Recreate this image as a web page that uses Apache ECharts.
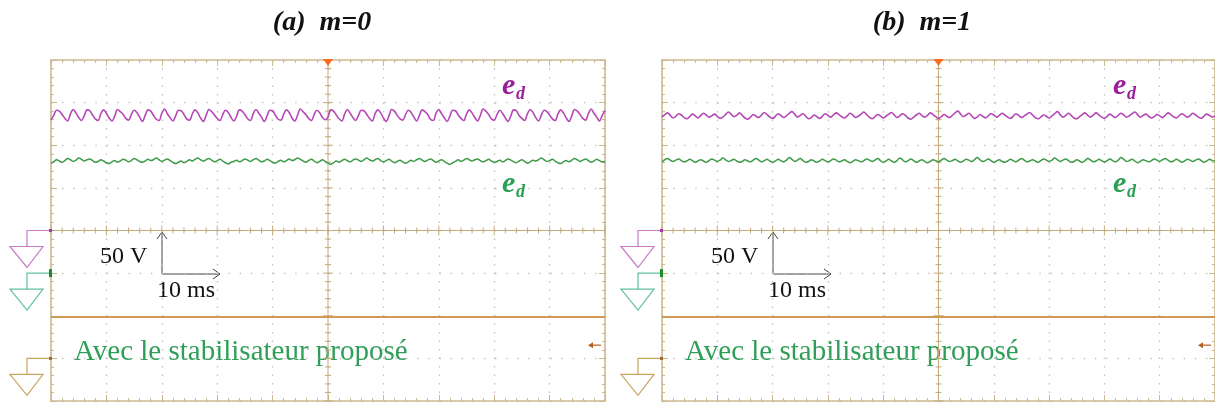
<!DOCTYPE html>
<html><head><meta charset="utf-8">
<script src="https://cdn.jsdelivr.net/npm/echarts@6/dist/echarts.min.js"></script>
<style>html,body{margin:0;padding:0;background:#fff}#c{width:1215px;height:405px}</style>
</head><body><div id="c"></div>
<script>
// ---- data (screen divisions, 50 V/div, 10 ms/div; time axis -50..50 ms) ----
const panelTitles = ['(a)  m=0', '(b)  m=1'];
const noteText = 'Avec le stabilisateur proposé';
const voltScale = '50 V';
const timeScale = '10 ms';
const purpleA = [
2.60,2.70,2.82,2.80,2.72,2.63, 2.57,2.73,2.84,2.76,2.65, 2.58,2.69,2.83,2.81,2.71,2.62, 2.58,2.74,2.83,2.75,2.64,
2.57,2.68,2.84,2.79,2.73,2.63, 2.59,2.72,2.82,2.77,2.66, 2.56,2.70,2.83,2.80,2.70,2.61, 2.58,2.75,2.85,2.74,2.65,
2.57,2.69,2.82,2.81,2.72,2.62, 2.59,2.73,2.83,2.76,2.64, 2.56,2.70,2.84,2.79,2.71,2.63, 2.58,2.72,2.82,2.77,2.65,
2.57,2.68,2.83,2.80,2.72,2.62, 2.58,2.74,2.84,2.75,2.66, 2.56,2.69,2.82,2.81,2.70,2.61, 2.59,2.73,2.83,2.77,2.64,
2.57,2.70,2.85,2.79,2.72,2.63, 2.58,2.72,2.82,2.76,2.65,
2.60,2.66,2.83,2.80,2.71,2.62, 2.57,2.73,2.84,2.75,2.65, 2.58,2.70,2.82,2.81,2.72,2.63, 2.57,2.74,2.83,2.76,2.64,
2.56,2.69,2.84,2.80,2.70,2.62, 2.59,2.72,2.82,2.77,2.66, 2.57,2.70,2.83,2.79,2.72,2.61, 2.58,2.75,2.84,2.74,2.64,
2.56,2.68,2.82,2.81,2.71,2.63, 2.58,2.73,2.83,2.76,2.65, 2.57,2.70,2.85,2.80,2.72,2.62, 2.59,2.72,2.82,2.75,2.64,
2.56,2.69,2.83,2.81,2.70,2.63, 2.58,2.74,2.84,2.77,2.65, 2.57,2.70,2.82,2.79,2.71,2.62, 2.58,2.73,2.83,2.76,2.64,
2.56,2.69,2.84,2.80,2.72,2.63, 2.59,2.74,2.85,2.75,2.66, 2.57,2.70,2.82
];
const greenA = [
1.58,1.61,1.66,1.63,1.60,1.64,1.69,1.66,1.62,1.65,1.70,1.67,1.63,1.66,1.68,1.64,1.60,1.62,1.66,1.63,
1.59,1.57,1.61,1.64,1.60,1.63,1.67,1.65,1.61,1.64,1.69,1.66,1.62,1.60,1.63,1.67,1.64,1.66,1.70,1.66,
1.62,1.65,1.68,1.64,1.60,1.57,1.60,1.63,1.59,1.62,1.66,1.63,1.67,1.70,1.66,1.63,1.66,1.69,1.65,1.61,
1.64,1.67,1.63,1.59,1.56,1.60,1.62,1.65,1.61,1.64,1.68,1.65,1.62,1.66,1.69,1.65,1.61,1.63,1.67,1.64,
1.60,1.58,1.62,1.65,1.61,1.64,1.68,1.64,1.66,1.70,1.67,1.63,1.60,1.64,1.67,1.63,1.59,1.62,1.66,1.62,
1.58,1.55,1.59,1.63,1.60,1.64,1.67,1.64,1.61,1.65,1.68,1.65,1.62,1.66,1.70,1.66,1.63,1.66,1.69,1.64,
1.61,1.64,1.67,1.63,1.59,1.62,1.65,1.61,1.58,1.61,1.65,1.62,1.66,1.69,1.65,1.62,1.65,1.68,1.64,1.60,
1.63,1.66,1.62,1.58,1.55,1.59,1.62,1.66,1.62,1.65,1.69,1.66,1.63,1.66,1.68,1.64,1.61,1.64,1.67,1.63,
1.60,1.62,1.65,1.61,1.64,1.68,1.65,1.61,1.59,1.63,1.66,1.62,1.58,1.61,1.65,1.63,1.66,1.70,1.66,1.62,
1.64,1.67,1.63,1.59,1.57,1.61,1.64,1.61,1.65,1.69,1.66,1.62,1.65,1.68,1.64,1.60,1.63,1.67,1.64,1.61,
1.62
];
const purpleB = [
2.66,2.72,2.76,2.70,2.64,2.68,2.74,2.71,2.65,2.62,2.67,2.73,2.69,2.64,2.70,2.75,2.71,2.66,2.69,2.73,
2.68,2.63,2.66,2.72,2.78,2.73,2.67,2.70,2.76,2.70,2.64,2.61,2.66,2.72,2.68,2.65,2.71,2.77,2.72,2.66,
2.63,2.68,2.74,2.70,2.65,2.69,2.75,2.79,2.73,2.66,2.70,2.74,2.68,2.62,2.65,2.71,2.67,2.63,2.68,2.74,
2.70,2.66,2.71,2.76,2.72,2.67,2.64,2.69,2.75,2.71,2.65,2.68,2.73,2.78,2.72,2.66,2.62,2.67,2.72,2.69,
2.64,2.68,2.73,2.77,2.71,2.65,2.69,2.74,2.70,2.64,2.61,2.66,2.71,2.75,2.70,2.66,2.70,2.76,2.72,2.67,
2.63,2.67,2.72,2.68,2.65,2.70,2.76,2.80,2.73,2.67,2.71,2.75,2.69,2.63,2.66,2.72,2.68,2.64,2.69,2.74,
2.71,2.66,2.70,2.75,2.71,2.66,2.63,2.68,2.74,2.70,2.65,2.69,2.73,2.77,2.71,2.65,2.62,2.66,2.71,2.68,
2.64,2.69,2.74,2.79,2.72,2.66,2.70,2.75,2.70,2.64,2.62,2.67,2.72,2.76,2.70,2.66,2.71,2.76,2.71,2.66,
2.63,2.68,2.73,2.69,2.65,2.70,2.75,2.71,2.66,2.69,2.74,2.78,2.72,2.66,2.70,2.73,2.68,2.64,2.67,2.72,
2.69,2.65,2.70,2.76,2.72,2.67,2.64,2.69,2.74,2.70,2.66,2.70,2.75,2.71,2.66,2.63,2.68,2.73,2.70,2.66,
2.69
];
const greenB = [
1.61,1.66,1.69,1.65,1.62,1.65,1.68,1.64,1.61,1.63,1.67,1.64,1.60,1.63,1.66,1.63,1.60,1.64,1.68,1.65,
1.62,1.65,1.70,1.66,1.62,1.64,1.67,1.63,1.60,1.62,1.66,1.63,1.61,1.65,1.69,1.65,1.61,1.64,1.67,1.63,
1.60,1.63,1.67,1.64,1.61,1.65,1.71,1.67,1.62,1.65,1.69,1.64,1.60,1.62,1.66,1.63,1.60,1.63,1.67,1.64,
1.61,1.64,1.68,1.65,1.61,1.63,1.66,1.62,1.59,1.62,1.66,1.64,1.61,1.64,1.68,1.65,1.62,1.65,1.69,1.64,
1.60,1.63,1.67,1.63,1.60,1.64,1.70,1.66,1.61,1.64,1.68,1.64,1.60,1.63,1.66,1.62,1.59,1.62,1.66,1.64,
1.61,1.65,1.69,1.65,1.62,1.64,1.67,1.63,1.60,1.63,1.67,1.65,1.62,1.66,1.71,1.66,1.62,1.64,1.68,1.64,
1.60,1.63,1.66,1.62,1.60,1.63,1.67,1.64,1.61,1.65,1.69,1.65,1.61,1.63,1.66,1.63,1.60,1.64,1.68,1.65,
1.62,1.65,1.70,1.66,1.62,1.65,1.68,1.64,1.60,1.62,1.66,1.63,1.60,1.64,1.69,1.65,1.61,1.63,1.67,1.64,
1.61,1.64,1.68,1.64,1.61,1.65,1.71,1.67,1.62,1.64,1.67,1.63,1.59,1.62,1.66,1.64,1.61,1.64,1.68,1.65,
1.62,1.66,1.69,1.65,1.61,1.63,1.67,1.64,1.60,1.63,1.67,1.65,1.62,1.65,1.68,1.64,1.60,1.63,1.67,1.64,
1.63
];
const brownTrace = [-2.03, -2.03];
const groundLevels = [0, -1, -3];   // purple, green, brown reference markers
const triggerLevel = -2.69;

// ---- style ----
const C = {
  border: '#cbb98f', cross: '#c4ab7c', dots: '#c2c2c2',
  purple: '#b449b6', green: '#3f9b47', brown: '#d09a55',
  purpleLbl: '#9a1e9c', greenLbl: '#2aa052', note: '#2f9e57',
  gnd: ['#c77bc9', '#5fbf9f', '#caa35f'], gndMark: ['#a23aa6', '#1f8a2a', '#9a6a2a'],
  trig: '#ff6a1e', trigLvl: '#b4601e'
};
const serif = '"Liberation Serif", "Times New Roman", serif';
const panels = [
  { grid: { left: 51, top: 60, width: 554, height: 341 }, purple: purpleA, green: greenA },
  { grid: { left: 662, top: 60, width: 554, height: 341 }, purple: purpleB, green: greenB }
];

function toPairs(arr) { return arr.map((v, i) => [-50 + i * 100 / (arr.length - 1), v]); }

function borderAxis(g, pos, isX) {
  return {
    gridIndex: g, type: 'value', position: pos,
    min: isX ? -50 : -4, max: isX ? 50 : 4, interval: isX ? 10 : 1,
    axisLine: { show: true, onZero: false, lineStyle: { color: C.border, width: 1.6 } },
    axisTick: { show: true, inside: true, length: 6, lineStyle: { color: C.border, width: 1 } },
    minorTick: { show: true, splitNumber: 5, length: 3, lineStyle: { color: C.border, width: 1 } },
    axisLabel: { show: false },
    splitLine: { show: pos === 'bottom' || pos === 'left', lineStyle: { color: C.dots, width: 1.4, type: isX ? [1.4, 7.1] : [1.4, 9.7] } }
  };
}

const xAxis = [], yAxis = [], series = [];
panels.forEach((p, g) => {
  xAxis.push(borderAxis(g, 'bottom', true), borderAxis(g, 'top', true));
  yAxis.push(borderAxis(g, 'left', false), borderAxis(g, 'right', false));
  const xi = 2 * g, yi = 2 * g;
  // centre cross with ticks
  series.push({
    type: 'custom', xAxisIndex: xi, yAxisIndex: yi, z: 1, silent: true,
    data: [[0, 0]],
    renderItem: function (params, api) {
      const ch = [];
      const L = api.coord([-50, 0]), R = api.coord([50, 0]), T = api.coord([0, 4]), B = api.coord([0, -4]);
      const st = { stroke: C.cross, lineWidth: 1 };
      ch.push({ type: 'line', shape: { x1: L[0], y1: L[1], x2: R[0], y2: R[1] }, style: st });
      ch.push({ type: 'line', shape: { x1: T[0], y1: T[1], x2: B[0], y2: B[1] }, style: st });
      for (let k = -25; k <= 25; k++) {
        const q = api.coord([k * 2, 0]); const len = (k % 5 === 0) ? 5 : 3;
        ch.push({ type: 'line', shape: { x1: q[0], y1: q[1] - len, x2: q[0], y2: q[1] + len }, style: st });
      }
      for (let k = -20; k <= 20; k++) {
        const q = api.coord([0, k * 0.2]); const len = (k % 5 === 0) ? 5 : 3;
        ch.push({ type: 'line', shape: { x1: q[0] - len, y1: q[1], x2: q[0] + len, y2: q[1] }, style: st });
      }
      return { type: 'group', children: ch };
    }
  });
  series.push({ type: 'line', xAxisIndex: xi, yAxisIndex: yi, data: toPairs(brownTrace), showSymbol: false, z: 3,
    lineStyle: { color: C.brown, width: 2 }, silent: true });
  series.push({ type: 'line', xAxisIndex: xi, yAxisIndex: yi, data: toPairs(p.purple), showSymbol: false, smooth: 0.35, z: 4,
    lineStyle: { color: C.purple, width: 1.6 }, silent: true });
  series.push({ type: 'line', xAxisIndex: xi, yAxisIndex: yi, data: toPairs(p.green), showSymbol: false, smooth: 0.35, z: 4,
    lineStyle: { color: C.green, width: 1.5 }, silent: true });
  // ground reference symbols
  series.push({
    type: 'custom', xAxisIndex: xi, yAxisIndex: yi, z: 5, silent: true, clip: false,
    data: groundLevels.map((v, i) => [-50, v, i]),
    renderItem: function (params, api) {
      const q = api.coord([api.value(0), api.value(1)]);
      const col = C.gnd[api.value(2)];
      const x = q[0], y = q[1];
      return { type: 'group', children: [
        { type: 'polyline', shape: { points: [[x - 1, y], [x - 24, y], [x - 24, y + 16]] }, style: { stroke: col, fill: null, lineWidth: 1.2 } },
        { type: 'polygon', shape: { points: [[x - 41, y + 16], [x - 8, y + 16], [x - 24, y + 37]] }, style: { stroke: col, fill: null, lineWidth: 1.2 } },
        { type: 'rect', shape: { x: x - 2, y: y - (api.value(2) === 1 ? 4 : 1.5), width: 3, height: api.value(2) === 1 ? 8 : 3 }, style: { fill: C.gndMark[api.value(2)] } }
      ] };
    }
  });
  // trigger position marker (top) and trigger level marker (right)
  series.push({
    type: 'custom', xAxisIndex: xi, yAxisIndex: yi, z: 6, silent: true, clip: false,
    data: [[0, 4, 0], [50, triggerLevel, 1]],
    renderItem: function (params, api) {
      const q = api.coord([api.value(0), api.value(1)]);
      const x = q[0], y = q[1];
      if (api.value(2) === 0) {
        return { type: 'polygon', shape: { points: [[x - 5, y - 1], [x + 5, y - 1], [x, y + 6]] }, style: { fill: C.trig } };
      }
      return { type: 'group', children: [
        { type: 'line', shape: { x1: x - 15, y1: y, x2: x - 4, y2: y }, style: { stroke: C.trigLvl, lineWidth: 1.2 } },
        { type: 'polygon', shape: { points: [[x - 17, y], [x - 12, y - 3], [x - 12, y + 3]] }, style: { fill: C.trigLvl } }
      ] };
    }
  });
});

// ---- annotations ----
const graphic = [];
const offs = [0, 611];
offs.forEach((dx, g) => {
  graphic.push({ type: 'text', x: [322, 922][g], y: 23, style: { text: panelTitles[g], fontFamily: serif, fontSize: 28, fontWeight: 'bold', fontStyle: 'italic', fill: '#111', textAlign: 'center', textVerticalAlign: 'middle' } });
  const ex = [502, 1113][g];
  [[86, C.purpleLbl], [184, C.greenLbl]].forEach(([yy, col]) => {
    graphic.push({ type: 'text', x: ex, y: yy, style: { text: 'e', fontFamily: serif, fontSize: 30, fontWeight: 'bold', fontStyle: 'italic', fill: col, textAlign: 'left', textVerticalAlign: 'middle' } });
    graphic.push({ type: 'text', x: ex + 14, y: yy + 8, style: { text: 'd', fontFamily: serif, fontSize: 18, fontWeight: 'bold', fontStyle: 'italic', fill: col, textAlign: 'left', textVerticalAlign: 'middle' } });
  });
  graphic.push({ type: 'text', x: 100 + dx, y: 257, style: { text: voltScale, fontFamily: serif, fontSize: 24, fill: '#111', textAlign: 'left', textVerticalAlign: 'middle' } });
  graphic.push({ type: 'text', x: 157 + dx, y: 291, style: { text: timeScale, fontFamily: serif, fontSize: 24, fill: '#111', textAlign: 'left', textVerticalAlign: 'middle' } });
  graphic.push({ type: 'polyline', shape: { points: [[162 + dx, 232], [162 + dx, 274], [220 + dx, 274]] }, style: { stroke: '#444', lineWidth: 1, fill: null } });
  graphic.push({ type: 'polyline', shape: { points: [[157 + dx, 239], [162 + dx, 232], [167 + dx, 239]] }, style: { stroke: '#444', lineWidth: 1, fill: null } });
  graphic.push({ type: 'polyline', shape: { points: [[213 + dx, 269], [220 + dx, 274], [213 + dx, 279]] }, style: { stroke: '#444', lineWidth: 1, fill: null } });
  graphic.push({ type: 'text', x: 74 + dx, y: 352, style: { text: noteText, fontFamily: serif, fontSize: 29, fill: C.note, textAlign: 'left', textVerticalAlign: 'middle' } });
});

const chart = echarts.init(document.getElementById('c'));
chart.setOption({
  animation: false,
  backgroundColor: '#ffffff',
  grid: panels.map(p => Object.assign({ containLabel: false }, p.grid)),
  xAxis, yAxis, series, graphic
});
</script></body></html>
